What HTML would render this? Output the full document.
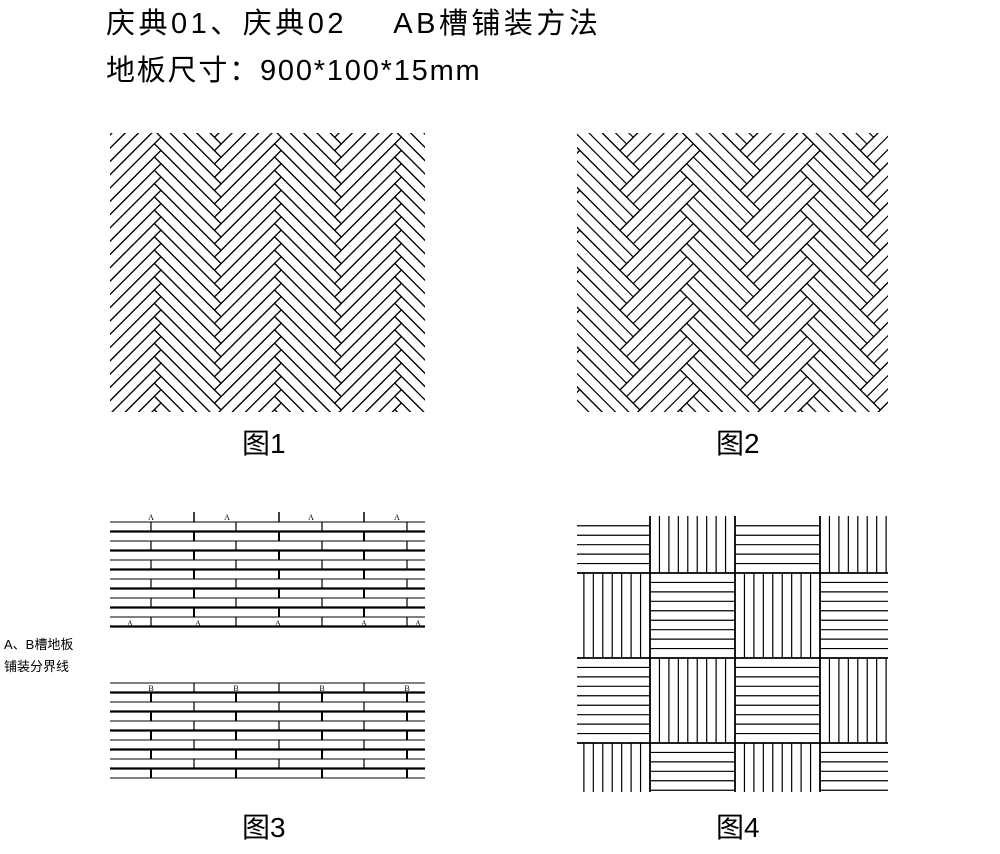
<!DOCTYPE html>
<html style="overflow:hidden"><head><meta charset="utf-8"><style>
html,body{margin:0;padding:0;background:#fff;}
body{width:1000px;height:854px;position:relative;overflow:hidden;font-family:"Liberation Sans","Noto Sans CJK SC",sans-serif;color:#000;}
.t{position:absolute;white-space:nowrap;}
</style></head><body>
<div class="t" style="left:106px;top:0px;font-size:29px;letter-spacing:3.5px;">庆典01、庆典02&nbsp;&nbsp;&nbsp;&nbsp;AB槽铺装方法</div>
<div class="t" style="left:106px;top:47px;font-size:29px;letter-spacing:1.8px;">地板尺寸：900*100*15mm</div>
<div class="t" style="left:242px;top:422px;font-size:28px;">图1</div>
<div class="t" style="left:716px;top:422px;font-size:28px;">图2</div>
<div class="t" style="left:242px;top:806px;font-size:28px;">图3</div>
<div class="t" style="left:716px;top:806px;font-size:28px;">图4</div>
<div class="t" style="left:4px;top:634px;font-size:13px;">A、B槽地板</div>
<div class="t" style="left:4px;top:656px;font-size:13px;">铺装分界线</div>
<svg id="s" width="1000" height="854" style="position:absolute;left:0;top:0" xmlns="http://www.w3.org/2000/svg"></svg>
<script>
var S=document.getElementById('s'),out='';
function L(x1,y1,x2,y2,w){out+='<line x1="'+x1+'" y1="'+y1+'" x2="'+x2+'" y2="'+y2+'" stroke="#000" stroke-width="'+(w||1.2)+'"/>';}
out+='<defs><clipPath id="f1"><rect x="110" y="133" width="315" height="279"/></clipPath><clipPath id="f2"><rect x="577" y="133" width="311" height="279"/></clipPath></defs>';
function herring(clip,cx,cy,G,Lp,n){var W=G/n;
 out+='<g clip-path="url(#'+clip+')"><g transform="translate('+cx+','+cy+') rotate(45)">';
 for(var k=-5;k<=5;k++){for(var i=-40;i<=40;i++){var tx=k*Lp,ty=-k*Lp;
  var hx=i*G+tx,hy=i*G+ty;
  if(Math.abs(hx-hy)<520&&Math.abs(hx+hy)<520){out+='<rect x="'+hx+'" y="'+hy+'" width="'+Lp+'" height="'+G+'" fill="none" stroke="#000" stroke-width="1.2"/>';for(var j=1;j<n;j++)L(hx,hy+j*W,hx+Lp,hy+j*W);}
  var vx=(i-1)*G+tx,vy=i*G+ty;
  if(Math.abs(vx-vy)<520&&Math.abs(vx+vy)<520){out+='<rect x="'+vx+'" y="'+vy+'" width="'+G+'" height="'+Lp+'" fill="none" stroke="#000" stroke-width="1.2"/>';for(var j=1;j<n;j++)L(vx+j*W,vy,vx+j*W,vy+Lp);}
 }}
 out+='</g></g>';}
herring('f1',161,270,9.4,85,1);
herring('f2',700,270,28.2,85,3);
function brick(y0,n,topJ){var h=9.5;
 for(var r=0;r<=n;r++){var y=y0+r*h;L(110,y,425,y,(r%2==1)?2.2:1.1);}
 for(var r=0;r<n;r++){var js=((r+topJ)%2==0)?[194,279,364]:[151,236,322,407];var w=(r%2==0)?1.2:2;
  js.forEach(function(x){L(x,y0+r*h,x,y0+(r+1)*h,w);});}}
brick(522,11,1);
[194,279,364].forEach(function(x){L(x,512,x,522,1.5);});
brick(683,10,0);
function lab(x,y,t){out+='<text x="'+x+'" y="'+y+'" font-size="8" font-family="Liberation Serif,serif" text-anchor="middle">'+t+'</text>';}
[151,227,311,397].forEach(function(x){lab(x,520,'A');});
[130,198,278,364,418].forEach(function(x){lab(x,626,'A');});
[151,236,322,407].forEach(function(x){lab(x,691,'B');});
var bx=[577,650,735,820,888],by=[516,573,658,743,792],p=85/9;
for(var r=0;r<4;r++)for(var c=0;c<4;c++){var x1=bx[c],x2=bx[c+1],y1=by[r],y2=by[r+1];var hz=((r+c)%2==0);
 if(hz){for(var y=488;y<800;y+=p)if(y>y1+1&&y<y2-1)L(x1,y,x2,y,1.2);}
 else{for(var x=565;x<900;x+=p)if(x>x1+1&&x<x2-1)L(x,y1,x,y2,1.2);}}
for(var c=1;c<4;c++)L(bx[c],516,bx[c],792,1.8);
for(var r=1;r<4;r++)L(577,by[r],888,by[r],1.8);
S.innerHTML=out;
</script>
</body></html>
